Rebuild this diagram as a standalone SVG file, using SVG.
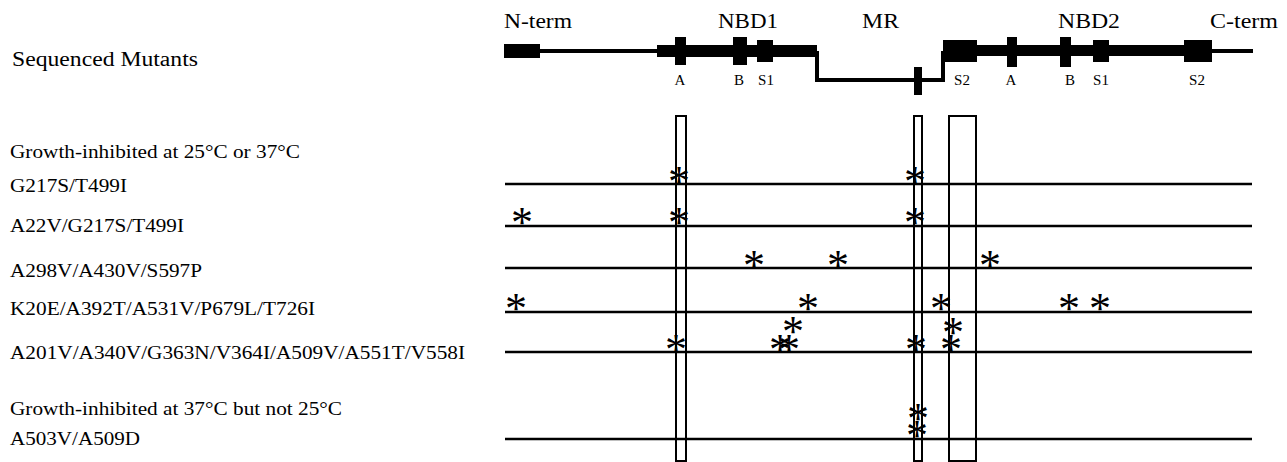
<svg xmlns="http://www.w3.org/2000/svg" width="1287" height="462" viewBox="0 0 1287 462">
<style>
text{font-family:"Liberation Serif","Times New Roman",serif;fill:#000}
.lab{font-size:18.5px}
.top{font-size:20px}
.sm{font-size:15px;text-anchor:middle}
.ast{font-size:44px;text-anchor:middle}
.row{stroke:#000;stroke-width:2.5;fill:none}
.box{stroke:#000;stroke-width:2;fill:none}
</style>
<rect width="1287" height="462" fill="#fff"/>
<g id="protein">
<rect x="504" y="44" width="36" height="14"/>
<line x1="540" y1="51" x2="657" y2="51" stroke="#000" stroke-width="4"/>
<rect x="657" y="45" width="160" height="12"/>
<rect x="675" y="37" width="11" height="28"/>
<rect x="733" y="37" width="14" height="28"/>
<rect x="757" y="40" width="16" height="22"/>
<path d="M817,51 V80 H943 V51" stroke="#000" stroke-width="4" fill="none"/>
<rect x="914" y="67" width="8" height="28"/>
<rect x="943" y="40" width="34" height="22"/>
<rect x="977" y="45" width="235" height="11"/>
<rect x="1007" y="37" width="10" height="30"/>
<rect x="1060" y="37" width="11" height="30"/>
<rect x="1093" y="40" width="16" height="22"/>
<rect x="1184" y="40" width="28" height="22"/>
<line x1="1212" y1="51" x2="1253" y2="51" stroke="#000" stroke-width="4"/>
</g>
<g id="domain-labels" font-family="Liberation Serif, serif">
<text class="top" x="504" y="28" textLength="68" lengthAdjust="spacingAndGlyphs">N-term</text>
<text class="top" x="718" y="28" textLength="60" lengthAdjust="spacingAndGlyphs">NBD1</text>
<text class="top" x="862" y="28" textLength="37" lengthAdjust="spacingAndGlyphs">MR</text>
<text class="top" x="1058" y="28" textLength="62" lengthAdjust="spacingAndGlyphs">NBD2</text>
<text class="top" x="1210" y="28" textLength="68" lengthAdjust="spacingAndGlyphs">C-term</text>
<text class="sm" x="680" y="85">A</text>
<text class="sm" x="739" y="85">B</text>
<text class="sm" x="766" y="85">S1</text>
<text class="sm" x="962" y="85">S2</text>
<text class="sm" x="1011" y="85">A</text>
<text class="sm" x="1070" y="85">B</text>
<text class="sm" x="1101" y="85">S1</text>
<text class="sm" x="1197" y="85">S2</text>
</g>
<g id="row-labels" font-family="Liberation Serif, serif">
<text class="lab" x="12" y="66" style="font-size:20.5px" textLength="186" lengthAdjust="spacingAndGlyphs">Sequenced Mutants</text>
<text class="lab" x="10" y="158" textLength="290" lengthAdjust="spacingAndGlyphs">Growth-inhibited at 25°C or 37°C</text>
<text class="lab" x="10" y="192" textLength="117" lengthAdjust="spacingAndGlyphs">G217S/T499I</text>
<text class="lab" x="10" y="232" textLength="174" lengthAdjust="spacingAndGlyphs">A22V/G217S/T499I</text>
<text class="lab" x="10" y="277" textLength="192" lengthAdjust="spacingAndGlyphs">A298V/A430V/S597P</text>
<text class="lab" x="10" y="315" textLength="305" lengthAdjust="spacingAndGlyphs">K20E/A392T/A531V/P679L/T726I</text>
<text class="lab" x="10" y="359" textLength="455" lengthAdjust="spacingAndGlyphs">A201V/A340V/G363N/V364I/A509V/A551T/V558I</text>
<text class="lab" x="10" y="415" textLength="332" lengthAdjust="spacingAndGlyphs">Growth-inhibited at 37°C but not 25°C</text>
<text class="lab" x="10" y="445" textLength="130" lengthAdjust="spacingAndGlyphs">A503V/A509D</text>
</g>
<g id="rows">
<line class="row" x1="505" y1="184" x2="1252" y2="184"/>
<line class="row" x1="505" y1="226" x2="1252" y2="226"/>
<line class="row" x1="505" y1="268" x2="1252" y2="268"/>
<line class="row" x1="505" y1="312" x2="1252" y2="312" stroke-width="3"/>
<line class="row" x1="505" y1="352" x2="1252" y2="352"/>
<line class="row" x1="505" y1="439" x2="1252" y2="439"/>
</g>
<g id="boxes">
<rect class="box" x="676" y="116" width="10" height="345"/>
<rect class="box" x="914" y="116" width="8" height="345"/>
<rect class="box" x="949" y="116" width="27" height="345"/>
</g>
<g id="mutations" font-family="Liberation Serif, serif">
<text class="ast" x="679" y="196">*</text>
<text class="ast" x="915" y="196">*</text>
<text class="ast" x="522" y="237">*</text>
<text class="ast" x="679" y="237">*</text>
<text class="ast" x="915" y="237">*</text>
<text class="ast" x="754" y="280">*</text>
<text class="ast" x="838" y="280">*</text>
<text class="ast" x="990" y="280">*</text>
<text class="ast" x="516" y="323">*</text>
<text class="ast" x="808" y="323">*</text>
<text class="ast" x="941" y="323">*</text>
<text class="ast" x="1069" y="323">*</text>
<text class="ast" x="1100" y="323">*</text>
<text class="ast" x="676" y="364">*</text>
<text class="ast" x="780" y="364">*</text>
<text class="ast" x="789" y="364">*</text>
<text class="ast" x="793" y="346">*</text>
<text class="ast" x="916" y="364">*</text>
<text class="ast" x="951" y="364">*</text>
<text class="ast" x="953" y="347">*</text>
<text class="ast" x="918" y="433">*</text>
<text class="ast" x="917" y="450">*</text>
</g>
</svg>
